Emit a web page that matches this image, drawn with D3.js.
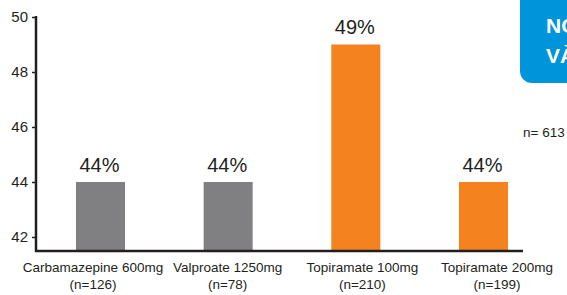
<!DOCTYPE html>
<html>
<head>
<meta charset="utf-8">
<script src="https://cdn.jsdelivr.net/npm/d3@7"></script>
<style>
  html, body { margin: 0; padding: 0; background: #fff; }
  svg { display: block; font-family: "Liberation Sans", Arial, sans-serif; }
</style>
</head>
<body>
<div id="chart"></div>
<script>
var drugs = ['Carbamazepine 600mg', 'Valproate 1250mg', 'Topiramate 100mg', 'Topiramate 200mg'];
var sampleSizes = ['(n=126)', '(n=78)', '(n=210)', '(n=199)'];
var rates = [44, 44, 49, 44];
var barColors = ['#808083', '#808083', '#f4821f', '#f4821f'];
var yTicks = [42, 44, 46, 48, 50];

function init() {
    'use strict';
    var svg = d3.select('#chart')
        .append('svg')
        .attr('width', 567)
        .attr('height', 295);

    var y = d3.scaleLinear().domain([41.49, 50]).range([251, 17]);
    var x = d3.scaleBand().domain(drugs).range([36, 548])
        .paddingInner(0.616).paddingOuter(0.313);
    var xLabel = d3.scalePoint().domain(drugs).range([93, 497]);

    // bars
    svg.selectAll('rect.bar')
        .data(rates)
        .enter()
        .append('rect')
        .attr('class', 'bar')
        .attr('x', function (d, i) { return x(drugs[i]); })
        .attr('width', x.bandwidth())
        .attr('y', function (d) { return y(d); })
        .attr('height', function (d) { return y.range()[0] - y(d); })
        .attr('fill', function (d, i) { return barColors[i]; });

    // value labels
    svg.selectAll('text.val')
        .data(rates)
        .enter()
        .append('text')
        .attr('class', 'val')
        .attr('x', function (d, i) { return x(drugs[i]) + x.bandwidth() / 2 - 1; })
        .attr('y', function (d) { return y(d) - 10; })
        .attr('text-anchor', 'middle')
        .attr('font-size', 20)
        .attr('fill', '#231f20')
        .text(function (d) { return d + '%'; });

    // y axis
    var yAxis = d3.axisLeft(y).tickValues(yTicks).tickSize(4).tickSizeOuter(0);
    var gy = svg.append('g').attr('transform', 'translate(36,0)').call(yAxis);
    gy.select('.domain').remove();
    gy.append('line')
        .attr('x1', 0).attr('x2', 0)
        .attr('y1', y(50) - 1).attr('y2', y.range()[0] + 1)
        .attr('stroke', '#231f20').attr('stroke-width', 2.5);
    gy.selectAll('.tick line').attr('stroke', '#231f20').attr('stroke-width', 1.5);
    gy.selectAll('.tick text')
        .attr('x', -8)
        .attr('font-size', 15)
        .attr('font-family', '"Liberation Sans", Arial, sans-serif')
        .attr('fill', '#231f20');

    // baseline
    svg.append('line')
        .attr('x1', 35).attr('x2', 523)
        .attr('y1', y.range()[0]).attr('y2', y.range()[0])
        .attr('stroke', '#231f20').attr('stroke-width', 2.5);

    // category labels
    var cat = svg.selectAll('g.cat')
        .data(drugs)
        .enter()
        .append('g')
        .attr('class', 'cat')
        .attr('transform', function (d) { return 'translate(' + xLabel(d) + ',0)'; });
    cat.append('text')
        .attr('y', 272)
        .attr('text-anchor', 'middle')
        .attr('font-size', 13.5)
        .attr('fill', '#231f20')
        .text(function (d) { return d; });
    cat.append('text')
        .attr('y', 289)
        .attr('text-anchor', 'middle')
        .attr('font-size', 13.5)
        .attr('fill', '#231f20')
        .text(function (d, i) { return sampleSizes[i]; });

    // n total
    svg.append('text')
        .attr('x', 523).attr('y', 137)
        .attr('font-size', 13.5)
        .attr('fill', '#231f20')
        .text('n= 613');

    // blue box at right edge
    svg.append('rect')
        .attr('x', 520).attr('y', -20)
        .attr('width', 90).attr('height', 103)
        .attr('rx', 12)
        .attr('fill', '#0095da');
    svg.append('text')
        .attr('x', 546).attr('y', 33)
        .attr('font-size', 21).attr('font-weight', 'bold')
        .attr('fill', '#fff')
        .text('NO');
    svg.append('text')
        .attr('x', 546).attr('y', 63)
        .attr('font-size', 21).attr('font-weight', 'bold')
        .attr('fill', '#fff')
        .text('VÀ');
}

window.onload = init;
</script>
</body>
</html>
